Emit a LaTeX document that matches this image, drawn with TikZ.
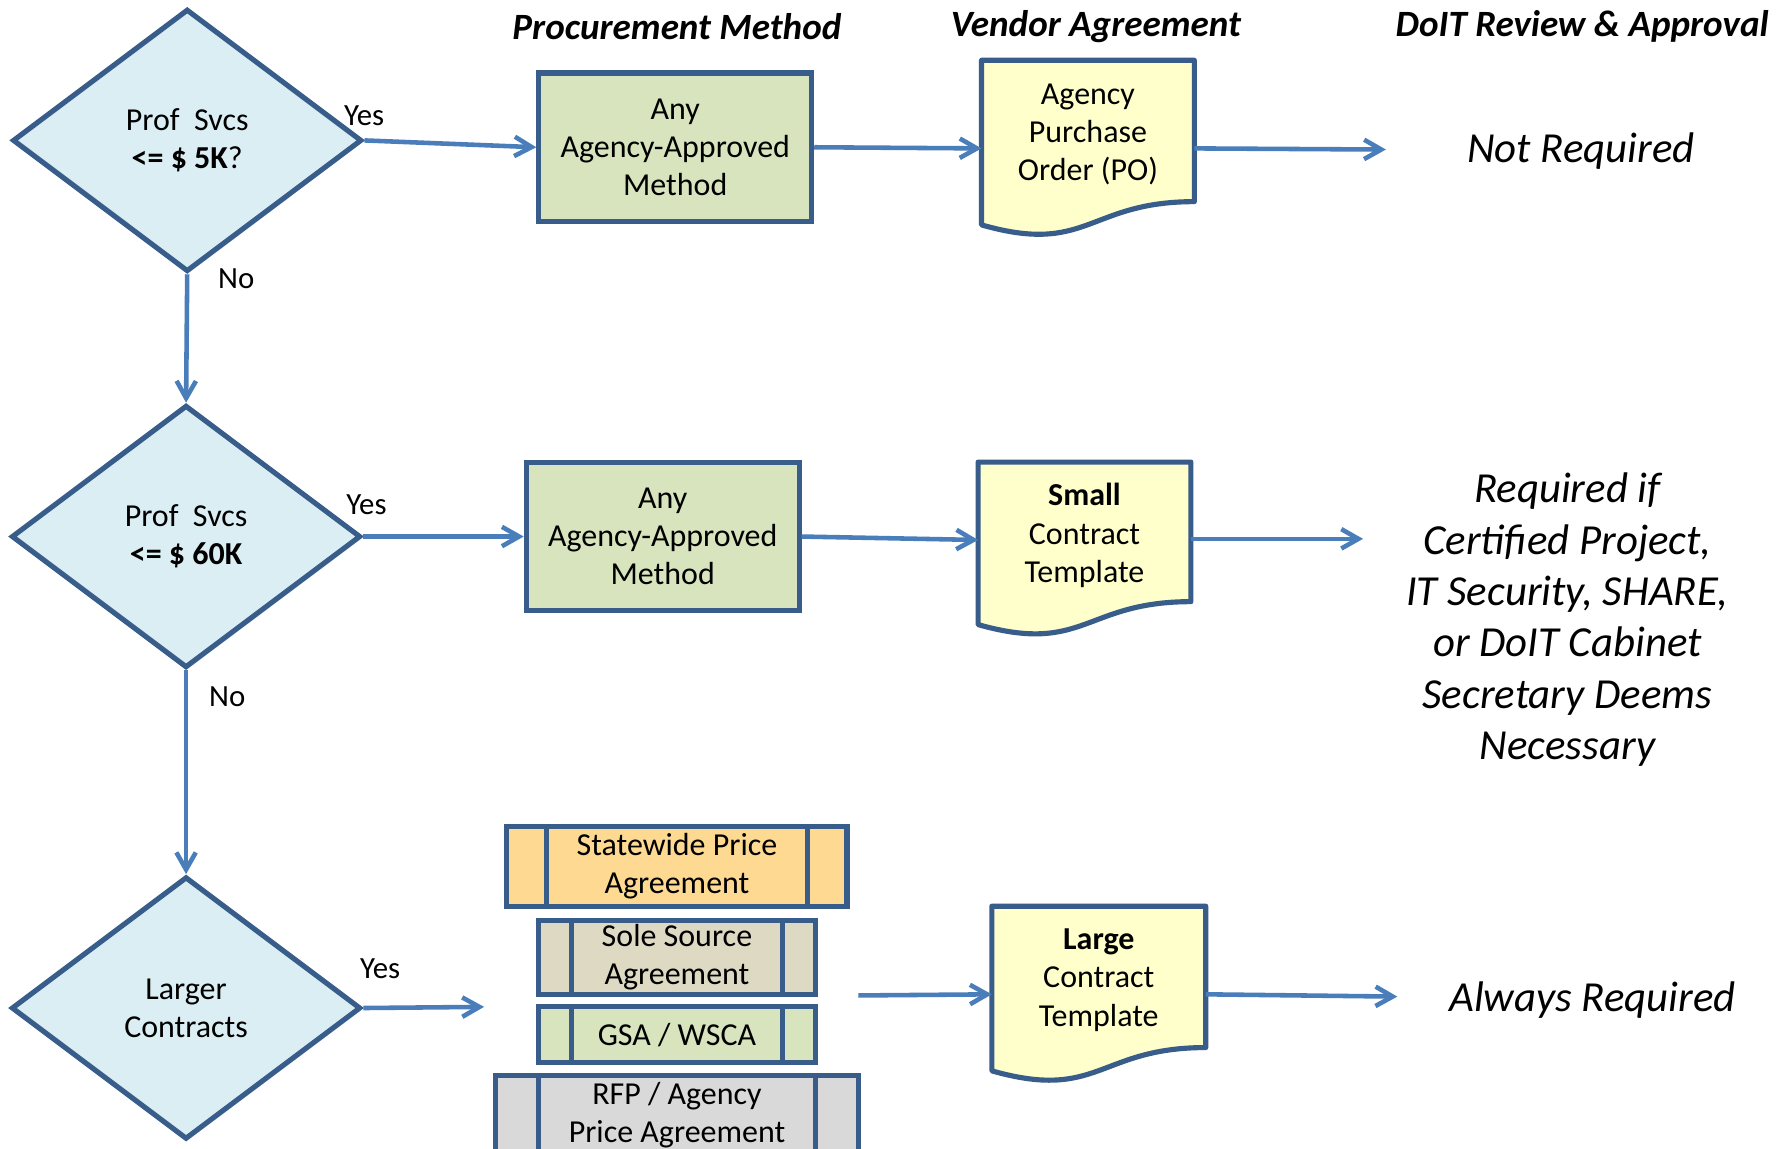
\documentclass[tikz,border=0pt]{standalone}
\usepackage{fontspec}
\setmainfont{Carlito}
\usetikzlibrary{arrows.meta,shapes.geometric,calc}
\definecolor{bord}{RGB}{56,93,138}
\definecolor{arr}{RGB}{74,126,187}
\definecolor{dfill}{RGB}{219,238,244}
\definecolor{gfill}{RGB}{215,228,189}
\definecolor{yfill}{RGB}{255,255,204}
\definecolor{ofill}{RGB}{253,217,145}
\definecolor{tfill}{RGB}{221,217,195}
\definecolor{grfill}{RGB}{217,217,217}
\newcommand\ppbars[2]{\draw[bline] ([xshift=#2]#1.north west) -- ([xshift=#2]#1.south west); \draw[bline] ([xshift=-#2]#1.north east) -- ([xshift=-#2]#1.south east);}
\newcommand\docpath[1]{\draw[bline, fill=yfill] (#1.north west) -- (#1.north east) -- ($(#1.north east)!0.802!(#1.south east)$) .. controls ($(#1.north)!0.802!(#1.south)$) and ($(#1.north)!1.107!(#1.south)$) .. ($(#1.north west)!0.934!(#1.south west)$) -- cycle;}
\begin{document}
\begin{tikzpicture}[x=1pt,y=-1pt,
  txt/.style={font=\fontsize{28}{33.5}\selectfont, align=center},
  dec/.style={diamond, draw=bord, fill=dfill, line width=4.5pt, minimum width=306pt, minimum height=230pt, inner sep=0pt, txt},
  procbox/.style={rectangle, draw=bord, line width=4.5pt, inner sep=0pt, txt},
  docbox/.style={rectangle, draw=none, inner sep=0pt},
  bline/.style={draw=bord, line width=4.5pt, line join=round},
  conn/.style={draw=arr, line width=4pt, -{Straight Barb[length=15pt,width=17pt]}},
  lbl/.style={font=\fontsize{27}{32}\selectfont},
  hdr/.style={font=\fontsize{32.5}{38}\selectfont\bfseries\itshape},
  rev/.style={font=\fontsize{37.5}{45}\selectfont\itshape, align=center}]
\useasboundingbox (0,0) rectangle (1568,1006);
\clip (0,0) rectangle (1568,1006);
\fill[white] (0,0) rectangle (1568,1006);

% headers
\node[hdr] (h1) at (593,23) {Procurement Method};
\node[hdr] (h2) at (960,23) {Vendor Agreement};
\node[hdr] (h3) at (1386,23) {DoIT Review \& Approval};

% decisions
\node[dec] (d1) at (164,123) {Prof\ \ Svcs\\\textbf{<= \$ 5K}?};
\node[dec] (d2) at (163,470) {Prof\ \ Svcs\\\textbf{<= \$ 60K}};
\node[dec] (d3) at (163,883) {Larger\\Contracts};

% procurement boxes
\node[procbox, fill=gfill, minimum width=239pt, minimum height=130pt] (box1) at (591.5,129) {Any\\Agency-Approved\\Method};
\node[procbox, fill=gfill, minimum width=239pt, minimum height=130pt] (box2) at (580.5,470) {Any\\Agency-Approved\\Method};

\node[procbox, fill=ofill, minimum width=298pt, minimum height=70pt, font=\fontsize{28}{33}\selectfont] (sw) at (593,759) {Statewide Price\\Agreement};
\ppbars{sw}{37}
\node[procbox, fill=tfill, minimum width=242pt, minimum height=65pt, font=\fontsize{28}{33}\selectfont] (ss) at (593,838.5) {Sole Source\\Agreement};
\ppbars{ss}{31}
\node[procbox, fill=gfill, minimum width=242pt, minimum height=49pt] (gsa) at (593,906.5) {GSA / WSCA};
\ppbars{gsa}{31}
\node[procbox, fill=grfill, minimum width=318pt, minimum height=70pt, font=\fontsize{28}{33}\selectfont] (rfp) at (593,977) {RFP / Agency\\Price Agreement};
\ppbars{rfp}{40}

% documents
\node[docbox, minimum width=186pt, minimum height=154pt] (doc1) at (953,130) {};
\docpath{doc1}
\node[txt] (doc1t) at ([yshift=12]doc1.center) {Agency\\Purchase\\Order (PO)};
\node[docbox, minimum width=186pt, minimum height=152pt] (doc2) at (950,481) {};
\docpath{doc2}
\node[txt] (doc2t) at ([yshift=12]doc2.center) {\textbf{Small}\\Contract\\Template};
\node[docbox, minimum width=187pt, minimum height=154pt] (doc3) at (962.5,871) {};
\docpath{doc3}
\node[txt] (doc3t) at ([yshift=12.5]doc3.center) {\textbf{Large}\\Contract\\Template};

% review texts
\node[rev] (r1) at (1385,132) {Not Required};
\node[rev] (r2) at (1373,543) {Required if\\Certified Project,\\IT Security, SHARE,\\or DoIT Cabinet\\Secretary Deems\\Necessary};
\node[rev] (r3) at (1395,876) {Always Required};

% free ends
\coordinate (e1) at (1214,131);
\coordinate (e2) at (1194,472);
\coordinate (e3) at (424,882);
\coordinate (s3) at (752,872);
\coordinate (e4) at (1224,873);

% connectors
\draw[conn] (d1.east) -- (box1.west);
\draw[conn] (box1.east) -- (doc1.west);
\draw[conn] (doc1.east) -- (e1);
\draw[conn] (d1.south) -- (d2.north);
\draw[conn] (d2.east) -- (box2.west);
\draw[conn] (box2.east) -- ([yshift=8]doc2.west);
\draw[conn] ([yshift=9]doc2.east) -- (e2);
\draw[conn] (d2.south) -- (d3.north);
\draw[conn] (d3.east) -- (e3);
\draw[conn] (s3) -- (doc3.west);
\draw[conn] (doc3.east) -- (e4);

% labels
\node[lbl] (y1) at (319,101) {Yes};
\node[lbl] (n1) at (207,244) {No};
\node[lbl] (y2) at (321,442) {Yes};
\node[lbl] (n2) at (199,610) {No};
\node[lbl] (y3) at (333,849) {Yes};
\end{tikzpicture}
\end{document}
